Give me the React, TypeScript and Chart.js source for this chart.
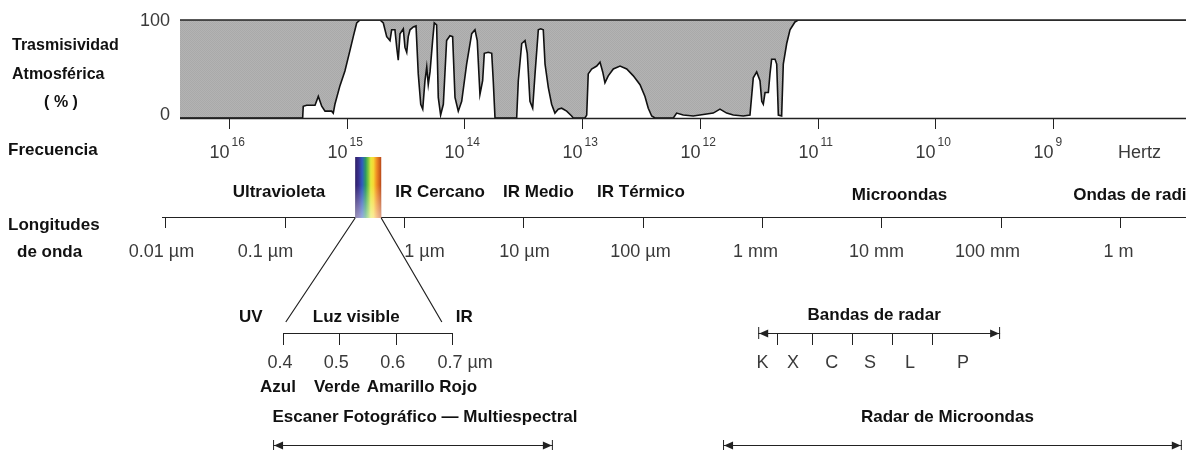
import { useEffect, useRef } from 'react';
import { Chart, registerables } from 'chart.js';

Chart.register(...registerables);

// ---------- DATA ----------
// Atmospheric transmissivity (%) against frequency exponent (log10 Hz)
const freqExponent = [
  16.42, 15.482, 15.374, 15.369, 15.34, 15.269, 15.241, 15.212, 15.184, 15.128,
  15.114, 15.1, 15.057, 15.015, 14.972, 14.944, 14.915, 14.887, 14.717, 14.689,
  14.66, 14.632, 14.618, 14.59, 14.575, 14.562, 14.547, 14.519, 14.505, 14.49,
  14.477, 14.462, 14.434, 14.411, 14.392, 14.371, 14.354, 14.335, 14.32, 14.307,
  14.292, 14.27, 14.256, 14.236, 14.222, 14.202, 14.179, 14.151, 14.123, 14.1,
  14.08, 14.052, 14.023, 13.981, 13.938, 13.91, 13.891, 13.868, 13.845, 13.831,
  13.797, 13.768, 13.755, 13.74, 13.556, 13.542, 13.513, 13.485, 13.466, 13.443,
  13.42, 13.4, 13.372, 13.352, 13.33, 13.315, 13.287, 13.259, 13.231, 13.203,
  13.174, 13.131, 13.089, 13.075, 12.976, 12.961, 12.948, 12.919, 12.876, 12.848,
  12.825, 12.806, 12.778, 12.735, 12.678, 12.621, 12.565, 12.508, 12.466, 12.438,
  12.409, 12.381, 12.225, 12.197, 12.141, 12.056, 11.999, 11.886, 11.829, 11.772,
  11.716, 11.631, 11.574, 11.546, 11.517, 11.489, 11.474, 11.461, 11.446, 11.418,
  11.404, 11.39, 11.361, 11.347, 11.333, 11.305, 11.291, 11.262, 11.234, 11.192,
  11.164, 7.87,
];
const transmissivityPct = [
  0, 0, 0, 12, 13, 13, 22, 12, 7, 7,
  5, 14, 33, 48, 69, 83, 97, 100, 100, 97,
  83, 79, 90, 90, 72, 59, 86, 91, 72, 67,
  83, 90, 93, 94, 45, 14, 9, 38, 52, 34,
  47, 79, 97, 95, 21, 3, 14, 79, 84, 83,
  21, 7, 17, 55, 86, 90, 79, 24, 38, 66,
  67, 66, 38, 0, 0, 38, 76, 79, 66, 17,
  10, 45, 90, 91, 90, 55, 31, 14, 5, 9,
  10, 7, 2, 0, 0, 3, 45, 50, 53, 57,
  47, 36, 43, 50, 53, 50, 43, 34, 22, 10,
  2, 0, 0, 5, 3, 2, 3, 5, 9, 5,
  3, 2, 3, 41, 47, 38, 17, 14, 26, 26,
  45, 60, 60, 55, 3, 2, 55, 76, 90, 98,
  100, 100,
];
const yTickValues = [0, 100];
const freqTickExponents = [16, 15, 14, 13, 12, 11, 10, 9];

const wavelengthTicksUm = [0.01, 0.1, 1, 10, 100, 1000, 10000, 100000, 1000000];
const wavelengthTickLabels = ['0.01 µm', '0.1 µm', '1 µm', '10 µm', '100 µm', '1 mm', '10 mm', '100 mm', '1 m'];

const regionNames = ['Ultravioleta', 'IR Cercano', 'IR Medio', 'IR Térmico', 'Microondas', 'Ondas de radio'];
const regionCenterExp = [15.575, 14.207, 13.371, 12.5, 10.304, 8.303];

const visibleBandUm = [0.39, 0.645];
const visibleTicksUm = [0.4, 0.5, 0.6, 0.7];
const visibleSideNames = ['UV', 'Luz visible', 'IR'];
const visibleSideCentersUm = [0.343, 0.53, 0.722];
const colourNames = ['Azul', 'Verde', 'Amarillo', 'Rojo'];
const colourCentersUm = [0.391, 0.496, 0.609, 0.711];

const radarTitle = 'Bandas de radar';
const radarRangeMm = [0.93, 99];
const radarTicksMm = [1.33, 2.61, 5.65, 12.2, 26.5];
const radarBandNames = ['K', 'X', 'C', 'S', 'L', 'P'];
const radarBandCentersMm = [1.01, 1.82, 3.84, 8.04, 17.4, 48.4];

const sensorNames = ['Escaner Fotográfico — Multiespectral', 'Radar de Microondas'];
const sensorFromUm = [0.08, 472];
const sensorToUm = [17.7, 3300000];

// ---------- LAYOUT / STYLE ----------
const W = 1186;
const H = 451;
const FONT = "'Liberation Sans', Arial, Helvetica, sans-serif";
const bold = (px: number) => `bold ${px}px ${FONT}`;
const reg = (px: number) => `${px}px ${FONT}`;
const INK = '#111';
const THIN = '#3a3a3a';
const wlLabelShift = [-4, -20, 20, 1, -3, -7, -5, -14, -2];
const sensorTextShift = [12, -5];

function drawArrow(ctx: CanvasRenderingContext2D, x1: number, x2: number, y: number, bar: number) {
  ctx.save();
  ctx.strokeStyle = '#222';
  ctx.fillStyle = '#222';
  ctx.lineWidth = 1;
  ctx.beginPath();
  ctx.moveTo(x1, y + 0.5);
  ctx.lineTo(x2, y + 0.5);
  ctx.moveTo(x1 + 0.5, y - bar);
  ctx.lineTo(x1 + 0.5, y + bar);
  ctx.moveTo(x2 - 0.5, y - bar);
  ctx.lineTo(x2 - 0.5, y + bar);
  ctx.stroke();
  ctx.beginPath();
  ctx.moveTo(x1 + 1, y + 0.5);
  ctx.lineTo(x1 + 10, y - 3.5);
  ctx.lineTo(x1 + 10, y + 4.5);
  ctx.closePath();
  ctx.fill();
  ctx.beginPath();
  ctx.moveTo(x2 - 1, y + 0.5);
  ctx.lineTo(x2 - 10, y - 3.5);
  ctx.lineTo(x2 - 10, y + 4.5);
  ctx.closePath();
  ctx.fill();
  ctx.restore();
}

function txt(
  ctx: CanvasRenderingContext2D,
  s: string,
  x: number,
  y: number,
  font: string,
  align: CanvasTextAlign = 'left',
  color = INK,
) {
  ctx.font = font;
  ctx.textAlign = align;
  ctx.textBaseline = 'alphabetic';
  ctx.fillStyle = color;
  ctx.fillText(s, x, y);
}

const annotate = {
  id: 'annotate',
  afterDraw(chart: any) {
    const ctx: CanvasRenderingContext2D = chart.ctx;
    const xf = chart.scales.x;
    const xw = chart.scales.xw;
    const xv = chart.scales.xv;
    const ys = chart.scales.y;
    const a = chart.chartArea;
    ctx.save();

    // frame lines of the transmissivity panel
    ctx.strokeStyle = '#222';
    ctx.lineWidth = 1.5;
    ctx.beginPath();
    ctx.moveTo(a.left, a.top);
    ctx.lineTo(a.right, a.top);
    ctx.moveTo(a.left, a.bottom + 0.5);
    ctx.lineTo(a.right, a.bottom + 0.5);
    ctx.stroke();

    // y labels
    yTickValues.forEach((v) => {
      const py = ys.getPixelForValue(v);
      txt(ctx, String(v), 170, v === 0 ? py + 2 : py + 6, reg(18), 'right', THIN);
    });

    // left titles
    txt(ctx, 'Trasmisividad', 12, 50, bold(16));
    txt(ctx, 'Atmosférica', 12, 79, bold(16));
    txt(ctx, '( % )', 61, 107, bold(16), 'center');
    txt(ctx, 'Frecuencia', 8, 155, bold(17));
    txt(ctx, 'Longitudes', 8, 230, bold(17));
    txt(ctx, 'de onda', 17, 257, bold(17));

    // frequency ticks & labels
    ctx.strokeStyle = '#222';
    ctx.lineWidth = 1;
    freqTickExponents.forEach((e) => {
      const px = Math.round(xf.getPixelForValue(Math.pow(10, e))) + 0.5;
      ctx.beginPath();
      ctx.moveTo(px, a.bottom + 1);
      ctx.lineTo(px, a.bottom + 11);
      ctx.stroke();
      txt(ctx, '10', px, 158, reg(18), 'right', THIN);
      txt(ctx, String(e), px + 2, 146, reg(12), 'left', THIN);
    });
    txt(ctx, 'Hertz', 1118, 158, reg(18), 'left', THIN);

    // region names
    regionNames.forEach((n, i) => {
      const px = xf.getPixelForValue(Math.pow(10, regionCenterExp[i]));
      txt(ctx, n, px, i >= 4 ? 200 : 197, bold(17), 'center');
    });

    // wavelength axis
    const wy = 217;
    ctx.strokeStyle = '#222';
    ctx.lineWidth = 1.2;
    ctx.beginPath();
    ctx.moveTo(162, wy + 0.5);
    ctx.lineTo(a.right, wy + 0.5);
    ctx.stroke();
    ctx.lineWidth = 1;
    wavelengthTicksUm.forEach((v, i) => {
      const px = Math.round(xw.getPixelForValue(v)) + 0.5;
      ctx.beginPath();
      ctx.moveTo(px, wy + 1);
      ctx.lineTo(px, wy + 11);
      ctx.stroke();
      txt(ctx, wavelengthTickLabels[i], px + wlLabelShift[i], 257, reg(18), 'center', THIN);
    });

    // spectrum bar
    const sx0 = xw.getPixelForValue(visibleBandUm[0]);
    const sx1 = xw.getPixelForValue(visibleBandUm[1]);
    const g = ctx.createLinearGradient(sx0, 0, sx1, 0);
    g.addColorStop(0, '#2e2066');
    g.addColorStop(0.14, '#3a3190');
    g.addColorStop(0.27, '#2f5cc0');
    g.addColorStop(0.4, '#2f9a62');
    g.addColorStop(0.5, '#7cc63e');
    g.addColorStop(0.6, '#e6e83c');
    g.addColorStop(0.7, '#f7d834');
    g.addColorStop(0.83, '#ef8a22');
    g.addColorStop(1, '#b8461a');
    ctx.fillStyle = g;
    ctx.fillRect(sx0, 157, sx1 - sx0, 61);
    const gv = ctx.createLinearGradient(0, 185, 0, 218);
    gv.addColorStop(0, 'rgba(255,255,255,0)');
    gv.addColorStop(1, 'rgba(255,255,255,0.5)');
    ctx.fillStyle = gv;
    ctx.fillRect(sx0, 185, sx1 - sx0, 33);

    // zoom lines to visible bracket
    ctx.strokeStyle = '#222';
    ctx.lineWidth = 1.2;
    ctx.beginPath();
    ctx.moveTo(sx0, 218);
    ctx.lineTo(xv.getPixelForValue(0.405), 322);
    ctx.moveTo(sx1, 218);
    ctx.lineTo(xv.getPixelForValue(0.682), 322);
    ctx.stroke();

    visibleSideNames.forEach((n, i) => {
      txt(ctx, n, xv.getPixelForValue(visibleSideCentersUm[i]), 322, bold(17), 'center');
    });

    // visible bracket
    const by = 333;
    ctx.lineWidth = 1;
    ctx.beginPath();
    const bx0 = Math.round(xv.getPixelForValue(visibleTicksUm[0])) + 0.5;
    const bx1 = Math.round(xv.getPixelForValue(visibleTicksUm[visibleTicksUm.length - 1])) + 0.5;
    ctx.moveTo(bx0, by + 0.5);
    ctx.lineTo(bx1, by + 0.5);
    visibleTicksUm.forEach((v) => {
      const px = Math.round(xv.getPixelForValue(v)) + 0.5;
      ctx.moveTo(px, by);
      ctx.lineTo(px, by + 12);
    });
    ctx.stroke();
    visibleTicksUm.forEach((v, i) => {
      const px = xv.getPixelForValue(v);
      if (i < visibleTicksUm.length - 1) {
        txt(ctx, v.toFixed(1), px - 3, 368, reg(18), 'center', THIN);
      } else {
        ctx.font = reg(18);
        const w = ctx.measureText(v.toFixed(1)).width;
        txt(ctx, v.toFixed(1) + ' µm', px - 2 - w / 2, 368, reg(18), 'left', THIN);
      }
    });
    colourNames.forEach((n, i) => {
      txt(ctx, n, xv.getPixelForValue(colourCentersUm[i]), 392, bold(17), 'center');
    });

    // radar bands
    const rx0 = xw.getPixelForValue(radarRangeMm[0] * 1000);
    const rx1 = xw.getPixelForValue(radarRangeMm[1] * 1000);
    txt(ctx, radarTitle, (rx0 + rx1) / 2 - 5, 320, bold(17), 'center');
    drawArrow(ctx, rx0, rx1, 333, 6);
    ctx.strokeStyle = '#222';
    ctx.lineWidth = 1;
    ctx.beginPath();
    radarTicksMm.forEach((v) => {
      const px = Math.round(xw.getPixelForValue(v * 1000)) + 0.5;
      ctx.moveTo(px, 334);
      ctx.lineTo(px, 345);
    });
    ctx.stroke();
    radarBandNames.forEach((n, i) => {
      txt(ctx, n, xw.getPixelForValue(radarBandCentersMm[i] * 1000), 368, reg(18), 'center', THIN);
    });

    // sensors
    sensorNames.forEach((n, i) => {
      const x0 = xw.getPixelForValue(sensorFromUm[i]);
      const x1 = Math.min(xw.getPixelForValue(sensorToUm[i]), a.right - 3);
      txt(ctx, n, (x0 + x1) / 2 + sensorTextShift[i], 422, bold(17), 'center');
      drawArrow(ctx, x0, x1, 445, 5);
    });

    ctx.restore();
  },
};

export default function App() {
  const ref = useRef<HTMLCanvasElement>(null);
  useEffect(() => {
    const canvas = ref.current;
    if (!canvas) return;
    // subtle dotted grey fill like the original halftone
    const pc = document.createElement('canvas');
    pc.width = 2;
    pc.height = 2;
    const pctx = pc.getContext('2d')!;
    pctx.fillStyle = '#b3b3b3';
    pctx.fillRect(0, 0, 2, 2);
    pctx.fillStyle = '#a9a9a9';
    pctx.fillRect(0, 0, 1, 1);
    pctx.fillRect(1, 1, 1, 1);
    const ctx0 = canvas.getContext('2d')!;
    const pattern = ctx0.createPattern(pc, 'repeat') || '#aeaeae';

    const chart = new Chart(canvas, {
      type: 'line',
      data: {
        datasets: [
          {
            data: freqExponent.map((e, i) => ({ x: Math.pow(10, e), y: transmissivityPct[i] })),
            borderColor: '#111',
            borderWidth: 1.6,
            backgroundColor: pattern as any,
            fill: 'end',
            pointRadius: 0,
            tension: 0,
          },
        ],
      },
      options: {
        animation: false,
        responsive: false,
        devicePixelRatio: 1,
        events: [],
        layout: { padding: { left: 180, top: 20, right: 0, bottom: H - 118 } },
        plugins: { legend: { display: false }, tooltip: { enabled: false } },
        scales: {
          x: {
            type: 'logarithmic',
            reverse: true,
            min: Math.pow(10, 7.87),
            max: Math.pow(10, 16.416),
            bounds: 'data',
            display: false,
          },
          y: { type: 'linear', min: 0, max: 100, display: false },
          xw: {
            type: 'logarithmic',
            axis: 'x',
            min: Math.pow(10, -1.8768),
            max: Math.pow(10, 6.5535),
            bounds: 'data',
            display: false,
          },
          xv: { type: 'linear', axis: 'x', min: 0.2172, max: 2.003, display: false },
        } as any,
      },
      plugins: [annotate],
    });
    return () => chart.destroy();
  }, []);

  return (
    <div style={{ position: 'fixed', left: 0, top: 0, width: W, height: H, background: '#fff' }}>
      <canvas ref={ref} width={W} height={H} style={{ display: 'block' }} />
    </div>
  );
}
